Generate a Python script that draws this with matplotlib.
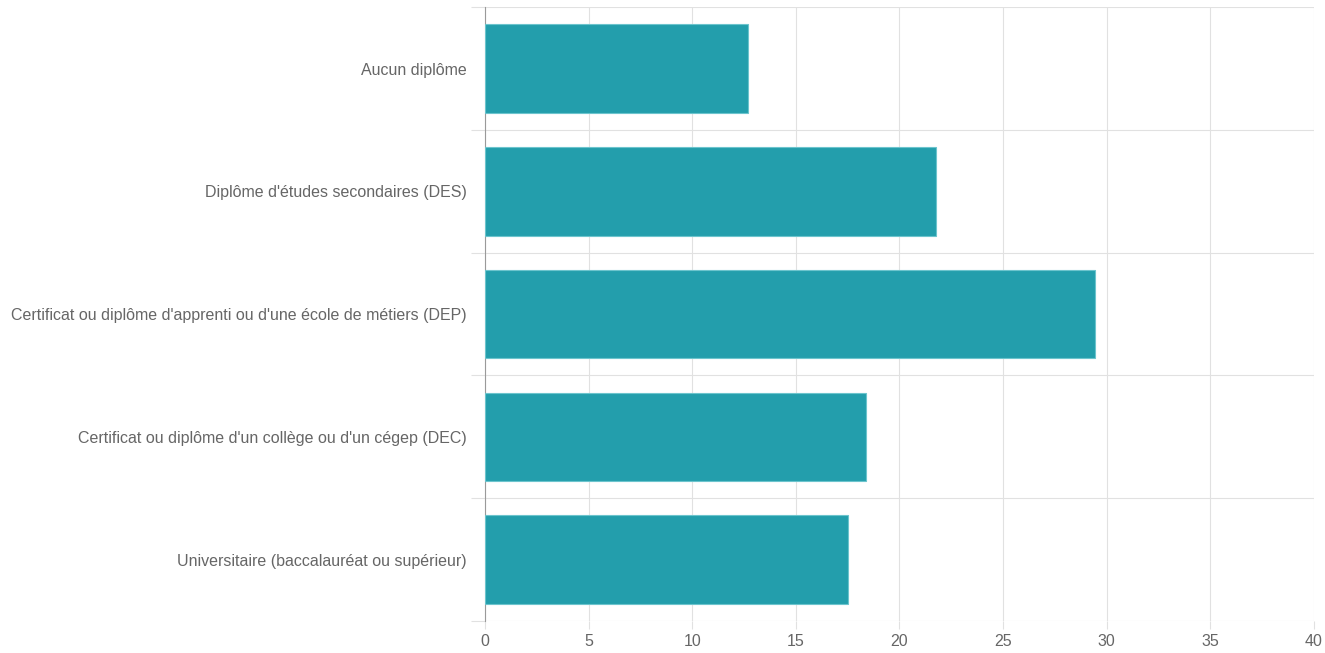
import matplotlib
matplotlib.use("Agg")
import matplotlib.pyplot as plt
import numpy as np

# data
categories = [
    "Aucun diplôme",
    "Diplôme d'études secondaires (DES)",
    "Certificat ou diplôme d'apprenti ou d'une école de métiers (DEP)",
    "Certificat ou diplôme d'un collège ou d'un cégep (DEC)",
    "Universitaire (baccalauréat ou supérieur)",
]
values = [12.7, 21.75, 29.45, 18.4, 17.5]
x_ticks = [0, 5, 10, 15, 20, 25, 30, 35, 40]

plt.rcParams['font.family'] = ['Liberation Sans', 'DejaVu Sans']

fig = plt.figure(figsize=(13.25, 6.53), dpi=100)
ax = fig.add_axes([0.366, 0.049, 0.6255, 0.940])

y_pos = np.arange(len(categories))
ax.barh(y_pos, values, height=0.72, color="#239eac",
        edgecolor="#6cc4cd", linewidth=0.8, zorder=3)

ax.set_xlim(0, 40)
ax.set_ylim(len(categories) - 0.5, -0.5)

# labels at band centres, grid lines on band edges
ax.set_yticks(y_pos)
ax.set_yticklabels(categories)
ax.set_yticks(np.arange(len(categories) + 1) - 0.5, minor=True)
ax.tick_params(axis="y", which="major", length=0, pad=13,
               labelsize=11.5, labelcolor="#666666")
ax.tick_params(axis="y", which="minor", length=10, width=0.8,
               color="#e1e1e1")

ax.set_xticks(x_ticks)
ax.tick_params(axis="x", length=6, width=0.8, color="#e1e1e1",
               pad=3, labelsize=11.5, labelcolor="#666666")

ax.grid(axis="x", which="major", color="#e1e1e1", linewidth=0.8, zorder=0)
ax.grid(axis="y", which="minor", color="#e1e1e1", linewidth=0.8, zorder=0)

for side in ["top", "right", "bottom"]:
    ax.spines[side].set_visible(False)
ax.spines["left"].set_color("#9a9a9a")
ax.spines["left"].set_linewidth(0.8)

fig.savefig("out.png", dpi=100, facecolor="white")
